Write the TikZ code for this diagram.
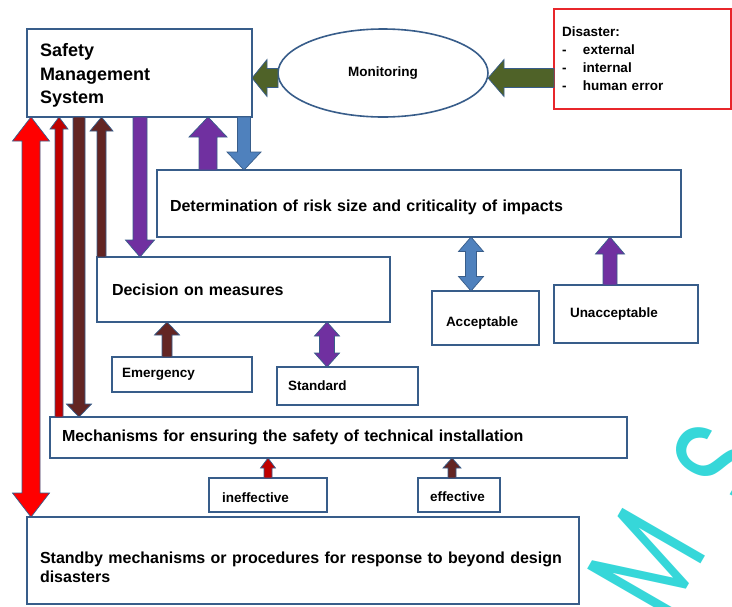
\documentclass[tikz,border=0pt]{standalone}
\usepackage{fontspec}
\setmainfont{Liberation Sans}
\newfontfamily\wmfont{Poppins}
\usetikzlibrary{shapes.geometric,calc}
\definecolor{bordblue}{HTML}{385D8A}
\definecolor{arrred}{HTML}{FF0000}
\definecolor{darkred}{HTML}{C00000}
\definecolor{brownr}{HTML}{632523}
\definecolor{purp}{HTML}{7030A0}
\definecolor{blueA}{HTML}{4F81BD}
\definecolor{greenA}{HTML}{4F6228}
\definecolor{wmcyan}{HTML}{36D7D9}
\definecolor{disred}{HTML}{E8262B}
% single block arrow: #1 fill, #2 start, #3 tip, #4 half shaft, #5 half head, #6 head length
\newcommand\sarrow[6]{%
  \coordinate (as) at #2; \coordinate (at) at #3;
  \coordinate (ab) at ($(at)!#6!(as)$);
  \filldraw[arrowline, fill=#1] ($(as)!#4!90:(at)$) -- ($(ab)!#4!90:(at)$) -- ($(ab)!#5!90:(at)$) -- (at)
    -- ($(ab)!#5!-90:(at)$) -- ($(ab)!#4!-90:(at)$) -- ($(as)!#4!-90:(at)$) -- cycle;}
% double block arrow
\newcommand\darrow[6]{%
  \coordinate (as) at #2; \coordinate (at) at #3;
  \coordinate (ab1) at ($(as)!#6!(at)$); \coordinate (ab2) at ($(at)!#6!(as)$);
  \filldraw[arrowline, fill=#1] (as) -- ($(ab1)!#5!90:(at)$) -- ($(ab1)!#4!90:(at)$) -- ($(ab2)!#4!90:(at)$)
    -- ($(ab2)!#5!90:(at)$) -- (at) -- ($(ab2)!#5!-90:(at)$) -- ($(ab2)!#4!-90:(at)$)
    -- ($(ab1)!#4!-90:(at)$) -- ($(ab1)!#5!-90:(at)$) -- cycle;}
\tikzset{
  box/.style={draw=bordblue, line width=1.6pt, fill=white, anchor=north west, outer sep=0pt,
    inner ysep=1pt, align=left, font=\bfseries\fontsize{16}{19}\selectfont},
  smalltxt/.style={font=\bfseries\fontsize{13.5}{16}\selectfont},
  arrowline/.style={draw=bordblue, line width=0.7pt, line join=miter},
  wm/.style={rotate=60, text=wmcyan, inner sep=0pt, font=\wmfont\fontsize{138}{138}\selectfont},
}
\begin{document}
\begin{tikzpicture}[x=1pt,y=-1pt]
\useasboundingbox (0,0) rectangle (732,606);
\fill[white] (0,0) rectangle (732,606);
% watermark
\begin{scope}
\clip (0,0) rectangle (732,606);
\node[wm] (wmM) at (647,563) {\scalebox{0.72}[1]{M}};
\node[wm] (wmS) at (722,463) {\scalebox{0.72}[1]{S}};
\end{scope}
% boxes
\node[box, text width=199pt, inner xsep=13pt, minimum height=88pt, font=\bfseries\fontsize{18}{23.5}\selectfont] (sms) at (27,29) {\rule{0pt}{18pt}Safety\\Management\\System};
\node[ellipse, draw=bordblue, line width=1.6pt, fill=white, minimum width=210pt, minimum height=88pt, outer sep=0pt, smalltxt] (mon) at (383,73) {Monitoring};
\node[box, draw=disred, text width=161pt, inner xsep=8pt, minimum height=100pt, font=\bfseries\fontsize{13.5}{18}\selectfont] (dis) at (554,9) {Disaster:\\\makebox[21pt][l]{-}external\\\makebox[21pt][l]{-}internal\\\makebox[21pt][l]{-}human error};
\node[box, text width=498pt, inner xsep=13pt, minimum height=67pt] (det) at (157,170) {\rule{0pt}{19pt}Determination of risk size and criticality of impacts};
\node[box, text width=263pt, inner xsep=15pt, minimum height=65pt] (dec) at (97,257) {Decision on measures};
\node[box, smalltxt, text width=120pt, inner xsep=10pt, minimum height=35pt] (emer) at (112,357) {Emergency};
\node[box, smalltxt, text width=119pt, inner xsep=11pt, minimum height=38pt] (std) at (277,367) {Standard};
\node[box, smalltxt, text width=79pt, inner xsep=14pt, minimum height=54pt] (acc) at (432,291) {\rule{0pt}{20pt}Acceptable};
\node[box, smalltxt, text width=112pt, inner xsep=16pt, minimum height=58pt] (unacc) at (554,285) {Unacceptable};
\node[box, text width=553pt, inner xsep=12pt, minimum height=41pt] (mech) at (50,417) {Mechanisms for ensuring the safety of technical installation};
\node[box, smalltxt, text width=92pt, inner xsep=13pt, minimum height=34pt] (ineff) at (209,478) {\rule{0pt}{16pt}ineffective};
\node[box, smalltxt, text width=58pt, inner xsep=12pt, minimum height=34pt] (eff) at (418,478) {\rule{0pt}{14pt}effective};
\node[box, text width=526pt, inner xsep=13pt, minimum height=87pt] (stb) at (27,517) {\rule{0pt}{26pt}Standby mechanisms or procedures for response to beyond design\\disasters};
% green arrows
\coordinate (gy) at ([yshift=-5pt]mon.east);
\coordinate (gx) at ([yshift=-5pt]sms.east);
\sarrow{greenA}{(gx -| mon.west)}{(gx)}{9.5pt}{18.5pt}{15pt}
\sarrow{greenA}{(gy -| dis.west)}{(gy)}{9.5pt}{18.5pt}{16pt}
% vertical arrows
\darrow{arrred}{([xshift=4pt]sms.south west)}{([xshift=4pt]stb.north west)}{9pt}{18.5pt}{24pt}
\sarrow{darkred}{([xshift=9pt]mech.north west)}{([xshift=32pt]sms.south west)}{4pt}{9pt}{12pt}
\sarrow{brownr}{([xshift=52pt]sms.south west)}{([xshift=29pt]mech.north west)}{6pt}{12.5pt}{13pt}
\sarrow{brownr}{([xshift=4.5pt]dec.north west)}{([xshift=74.5pt]sms.south west)}{4.5pt}{11.5pt}{14pt}
\sarrow{purp}{([xshift=113pt]sms.south west)}{([xshift=43pt]dec.north west)}{7pt}{14.5pt}{17pt}
\sarrow{purp}{([xshift=51pt]det.north west)}{([xshift=181pt]sms.south west)}{9pt}{19pt}{20pt}
\sarrow{blueA}{([xshift=217pt]sms.south west)}{([xshift=87pt]det.north west)}{6.5pt}{17pt}{18pt}
\darrow{blueA}{([xshift=314pt]det.south west)}{([xshift=39pt]acc.north west)}{5.5pt}{12.5pt}{14.5pt}
\sarrow{purp}{([xshift=56pt]unacc.north west)}{([xshift=453pt]det.south west)}{7pt}{14.5pt}{17pt}
\sarrow{brownr}{([xshift=55pt]emer.north west)}{([xshift=70pt]dec.south west)}{5pt}{12.5pt}{13pt}
\darrow{purp}{([xshift=230pt]dec.south west)}{([xshift=50pt]std.north west)}{7.5pt}{12.5pt}{14pt}
\sarrow{darkred}{([xshift=59pt]ineff.north west)}{([xshift=218pt]mech.south west)}{4pt}{7.5pt}{10pt}
\sarrow{brownr}{([xshift=34pt]eff.north west)}{([xshift=402pt]mech.south west)}{4pt}{9pt}{10pt}
\end{tikzpicture}
\end{document}
